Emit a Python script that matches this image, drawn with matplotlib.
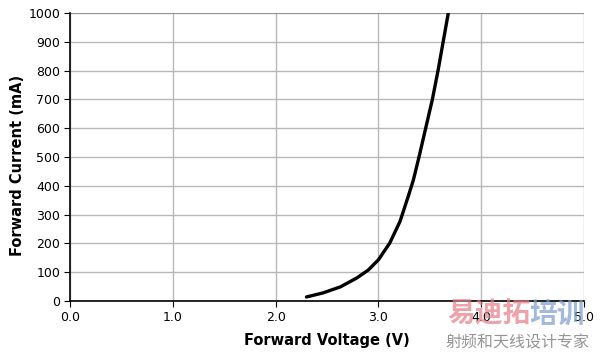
import matplotlib
matplotlib.use("Agg")
import matplotlib.pyplot as plt

# Forward voltage (V) vs forward current (mA)
voltage = [2.30, 2.46, 2.63, 2.79, 2.90, 3.00, 3.11, 3.21, 3.29, 3.34, 3.395,
           3.46, 3.525, 3.58, 3.63, 3.68]
current = [14, 28, 49, 80, 107, 143, 201, 276, 363, 420, 500,
           600, 700, 800, 900, 1000]

x_ticks = [0.0, 1.0, 2.0, 3.0, 4.0, 5.0]
y_ticks = list(range(0, 1001, 100))

plt.rcParams["font.family"] = ["DejaVu Sans", "Noto Sans CJK SC"]

fig = plt.figure(figsize=(6.0, 3.53), dpi=100)
ax = fig.add_axes([70 / 600, 1 - 301 / 353, 514 / 600, 288 / 353])

ax.plot(voltage, current, color="black", linewidth=2.4, solid_capstyle="round",
        solid_joinstyle="round", zorder=3)

ax.set_xlim(0, 5)
ax.set_ylim(0, 1000)
ax.set_xticks(x_ticks)
ax.set_xticklabels([f"{v:.1f}" for v in x_ticks])
ax.set_yticks(y_ticks)
ax.tick_params(axis="both", labelsize=9, length=4, width=0.8, direction="out",
               color="black", pad=3)
ax.grid(True, color="#b8b8b8", linewidth=1.0)
ax.axhline(1000, color="#8c8c8c", linewidth=1.2, zorder=1)
ax.set_axisbelow(True)
for side in ["top", "right"]:
    ax.spines[side].set_visible(False)
for side in ["left", "bottom"]:
    ax.spines[side].set_color("black")
    ax.spines[side].set_linewidth(1.2)

ax.set_xlabel("Forward Voltage (V)", fontsize=10.5, fontweight="bold",
              labelpad=7)
ax.set_ylabel("Forward Current (mA)", fontsize=10.5, fontweight="bold")
ax.yaxis.set_label_coords(-0.087, 0.47)

# watermark
fig.text(0.745, 0.108, "易迪拓", fontsize=20, fontweight="bold", va="center",
         color="#e57c86", alpha=0.7, family=["Noto Sans CJK SC"], zorder=0)
fig.text(0.882, 0.108, "培训", fontsize=20, fontweight="bold", va="center",
         color="#7d9bcf", alpha=0.7, family=["Noto Sans CJK SC"], zorder=0)
fig.text(0.743, 0.028, "射频和天线设计专家", fontsize=11.5, va="center",
         color="#8a8a8a", alpha=0.9, family=["Noto Sans CJK SC"])

fig.savefig("out.png", dpi=100)
